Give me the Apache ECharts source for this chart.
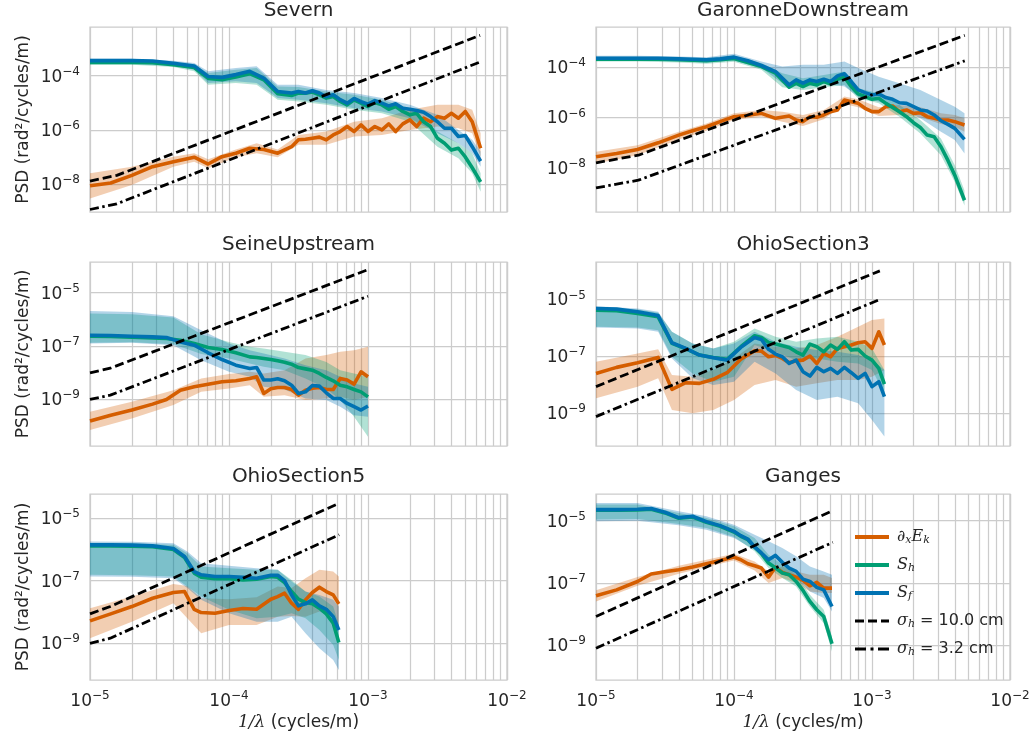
<!DOCTYPE html>
<html>
<head>
<meta charset="utf-8">
<script src="https://cdn.jsdelivr.net/npm/echarts@6/dist/echarts.min.js"></script>
<style>
html, body { margin: 0; padding: 0; background: #ffffff; }
#chart { width: 1036px; height: 738px; }
</style>
</head>
<body>
<div id="chart"></div>
<script>
// ---------------- Severn ----------------
const severnFreq = [1.0e-5, 1.41e-5, 2.0e-5, 2.82e-5, 3.98e-5, 5.62e-5, 7.08e-5, 8.91e-5, 1.12e-4, 1.41e-4, 1.78e-4, 2.24e-4, 2.82e-4, 3.16e-4, 3.55e-4, 3.98e-4, 4.47e-4, 5.01e-4, 5.62e-4, 6.31e-4, 7.08e-4, 7.94e-4, 8.91e-4, 1.0e-3, 1.12e-3, 1.26e-3, 1.41e-3, 1.58e-3, 1.78e-3, 2.0e-3, 2.24e-3, 2.51e-3, 2.82e-3, 3.16e-3, 3.55e-3, 3.98e-3, 4.47e-3, 5.01e-3, 5.62e-3, 6.46e-3];
const severnDxEk = [8.7e-9, 1.1e-8, 2.1e-8, 4.4e-8, 6.7e-8, 9.8e-8, 5.5e-8, 1.03e-7, 1.38e-7, 2.1e-7, 1.9e-7, 1.38e-7, 2.4e-7, 4.3e-7, 4.5e-7, 4.9e-7, 5.4e-7, 4.3e-7, 6.5e-7, 8.7e-7, 1.33e-6, 8.7e-7, 1.53e-6, 8.7e-7, 1.33e-6, 1.0e-6, 1.67e-6, 8.7e-7, 1.67e-6, 2.35e-6, 1.33e-6, 2.7e-6, 2.0e-6, 3.1e-6, 2.7e-6, 4.1e-6, 2.7e-6, 4.8e-6, 2.0e-6, 2.1e-7];
const severnSh = [3.1e-4, 3.1e-4, 3.1e-4, 3.0e-4, 2.55e-4, 2.0e-4, 8.0e-5, 7.1e-5, 9.0e-5, 1.19e-4, 7.1e-5, 2.15e-5, 1.87e-5, 2.28e-5, 2.28e-5, 2.5e-5, 1.98e-5, 1.49e-5, 1.72e-5, 1.12e-5, 8.4e-6, 1.29e-5, 9.7e-6, 7.3e-6, 1.03e-5, 8.4e-6, 5.8e-6, 7.3e-6, 4.8e-6, 3.6e-6, 4.1e-6, 2.0e-6, 1.33e-6, 4.9e-7, 3.2e-7, 1.8e-7, 2.1e-7, 1.0e-7, 4.0e-8, 1.2e-8];
const severnSf = [3.6e-4, 3.6e-4, 3.6e-4, 3.5e-4, 2.9e-4, 2.3e-4, 9.4e-5, 8.7e-5, 1.1e-4, 1.45e-4, 8.2e-5, 2.6e-5, 2.3e-5, 2.6e-5, 2.3e-5, 2.8e-5, 2.3e-5, 1.7e-5, 2.0e-5, 1.3e-5, 9.7e-6, 1.45e-5, 1.1e-5, 8.9e-6, 1.2e-5, 9.7e-6, 7.7e-6, 9.2e-6, 6.3e-6, 5.8e-6, 5.2e-6, 4.5e-6, 3.1e-6, 2.0e-6, 1.15e-6, 1.15e-6, 5.7e-7, 6.2e-7, 2.4e-7, 7.0e-8];
const severnBandFreq = [1.0e-5, 2.0e-5, 3.98e-5, 5.62e-5, 7.08e-5, 1.12e-4, 1.58e-4, 2.24e-4, 3.16e-4, 5.01e-4, 7.94e-4, 1.26e-3, 2.0e-3, 3.16e-3, 4.47e-3, 5.62e-3, 6.46e-3];
const severnDxEkHi = [2.5e-8, 4.4e-8, 1.03e-7, 1.37e-7, 8.2e-8, 1.9e-7, 3.2e-7, 1.9e-7, 6.5e-7, 8.7e-7, 2.0e-6, 2.7e-6, 5.5e-6, 8.4e-6, 8.4e-6, 5.5e-6, 7.5e-7];
const severnDxEkLo = [2.9e-9, 9.2e-9, 4.4e-8, 6.7e-8, 3.8e-8, 9.7e-8, 1.37e-7, 9.7e-8, 2.8e-7, 2.8e-7, 5.7e-7, 6.5e-7, 1.0e-6, 1.33e-6, 1.15e-6, 7.5e-7, 1.03e-7];
const severnShHi = [3.6e-4, 3.6e-4, 3.12e-4, 2.55e-4, 1.26e-4, 1.67e-4, 1.92e-4, 4.0e-5, 3.8e-5, 2.6e-5, 2.0e-5, 1.29e-5, 6.3e-6, 8.7e-7, 3.2e-7, 1.37e-7, 2.5e-8];
const severnShLo = [2.55e-4, 2.55e-4, 2.09e-4, 1.45e-4, 4.6e-5, 5.4e-5, 4.6e-5, 1.29e-5, 1.12e-5, 8.4e-6, 5.5e-6, 4.1e-6, 2.0e-6, 2.4e-7, 8.9e-8, 2.5e-8, 5.2e-9];
const severnSfHi = [4.27e-4, 4.27e-4, 3.6e-4, 2.94e-4, 1.45e-4, 1.92e-4, 2.22e-4, 4.6e-5, 4.6e-5, 3.0e-5, 2.3e-5, 1.49e-5, 8.4e-6, 3.6e-6, 1.0e-6, 4.3e-7, 1.58e-7];
const severnSfLo = [2.78e-4, 2.78e-4, 2.34e-4, 1.67e-4, 5.4e-5, 6.2e-5, 5.4e-5, 1.49e-5, 1.29e-5, 9.7e-6, 6.3e-6, 4.8e-6, 2.7e-6, 7.5e-7, 3.2e-7, 1.37e-7, 4.4e-8];
const severnRefFreq = [1.0e-5, 1.56e-5, 6.4e-3];
const severnSig10 = [1.29e-8, 2.1e-8, 3.1e-3];
const severnSig32 = [1.15e-9, 1.87e-9, 3.2e-4];
const severnYRange = [9.3e-10, 6.3e-3];

// ---------------- GaronneDownstream ----------------
const garonneFreq = [1.0e-5, 1.41e-5, 2.0e-5, 2.82e-5, 3.98e-5, 5.01e-5, 6.31e-5, 7.94e-5, 1.0e-4, 1.26e-4, 1.58e-4, 2.0e-4, 2.51e-4, 2.82e-4, 3.16e-4, 3.55e-4, 3.98e-4, 4.47e-4, 5.01e-4, 5.62e-4, 6.31e-4, 7.08e-4, 7.94e-4, 8.91e-4, 1.0e-3, 1.12e-3, 1.26e-3, 1.41e-3, 1.58e-3, 1.78e-3, 2.0e-3, 2.24e-3, 2.51e-3, 2.82e-3, 3.16e-3, 3.55e-3, 3.98e-3, 4.68e-3];
const garonneDxEk = [2.77e-8, 3.75e-8, 5.4e-8, 9.9e-8, 2.0e-7, 2.98e-7, 4.3e-7, 6.8e-7, 1.07e-6, 1.21e-6, 1.45e-6, 9.2e-7, 1.14e-6, 7.9e-7, 6.8e-7, 1.07e-6, 1.01e-6, 1.25e-6, 1.69e-6, 1.97e-6, 4.9e-6, 4.2e-6, 3.6e-6, 2.29e-6, 1.69e-6, 1.69e-6, 2.67e-6, 2.83e-6, 1.69e-6, 1.97e-6, 1.45e-6, 1.54e-6, 1.07e-6, 9.2e-7, 7.9e-7, 7.9e-7, 6.8e-7, 5.0e-7];
const garonneSh = [2.0e-4, 2.0e-4, 2.0e-4, 2.0e-4, 1.9e-4, 1.84e-4, 1.73e-4, 1.9e-4, 2.14e-4, 1.49e-4, 1.03e-4, 5.6e-5, 1.56e-5, 2.25e-5, 1.66e-5, 2.25e-5, 1.93e-5, 2.62e-5, 2.11e-5, 3.24e-5, 3.9e-5, 1.66e-5, 8.5e-6, 6.7e-6, 5.2e-6, 5.7e-6, 3.6e-6, 2.5e-6, 1.69e-6, 1.07e-6, 6.2e-7, 4.0e-7, 2.0e-7, 1.72e-7, 6.9e-8, 2.0e-8, 5.2e-9, 5.3e-10];
const garonneSf = [2.2e-4, 2.2e-4, 2.2e-4, 2.2e-4, 2.07e-4, 2.0e-4, 1.9e-4, 2.07e-4, 2.42e-4, 1.73e-4, 1.13e-4, 6.5e-5, 1.93e-5, 3.05e-5, 2.25e-5, 3.05e-5, 2.62e-5, 3.24e-5, 2.62e-5, 4.4e-5, 5.3e-5, 2.62e-5, 1.22e-5, 9.6e-6, 7.7e-6, 8.5e-6, 6.1e-6, 5.2e-6, 3.8e-6, 3.6e-6, 2.67e-6, 1.97e-6, 1.8e-6, 1.25e-6, 7.4e-7, 5.3e-7, 3.7e-7, 1.35e-7];
const garonneBandFreq = [1.0e-5, 2.0e-5, 3.98e-5, 6.31e-5, 1.0e-4, 1.58e-4, 2.24e-4, 3.16e-4, 4.47e-4, 6.31e-4, 7.94e-4, 1.12e-3, 1.58e-3, 2.24e-3, 3.16e-3, 3.98e-3, 4.68e-3];
const garonneDxEkHi = [4.4e-8, 8.0e-8, 2.7e-7, 5.8e-7, 1.45e-6, 1.97e-6, 1.69e-6, 1.25e-6, 1.97e-6, 6.7e-6, 5.2e-6, 2.5e-6, 3.1e-6, 2.5e-6, 1.45e-6, 1.25e-6, 9.2e-7];
const garonneDxEkLo = [1.5e-8, 3.2e-8, 1.35e-7, 3.0e-7, 7.9e-7, 1.07e-6, 6.8e-7, 4.6e-7, 8.4e-7, 3.4e-6, 2.5e-6, 1.14e-6, 1.25e-6, 1.01e-6, 5.5e-7, 4.3e-7, 2.7e-7];
const garonneShHi = [2.42e-4, 2.42e-4, 2.28e-4, 2.14e-4, 2.74e-4, 1.4e-4, 5.6e-5, 3.55e-5, 4.8e-5, 6.5e-5, 1.42e-5, 9.0e-6, 3.1e-6, 7.9e-7, 1.48e-7, 1.29e-8, 1.3e-9];
const garonneShLo = [1.63e-4, 1.63e-4, 1.49e-4, 1.32e-4, 1.58e-4, 7.6e-5, 1.56e-5, 1.22e-5, 1.56e-5, 1.93e-5, 5.7e-6, 3.6e-6, 1.07e-6, 2.33e-7, 3.2e-8, 2.8e-9, 3.3e-10];
const garonneSfHi = [2.74e-4, 2.74e-4, 2.57e-4, 2.42e-4, 3.28e-4, 1.63e-4, 1.03e-4, 1.2e-4, 1.2e-4, 1.63e-4, 8.9e-5, 4.1e-5, 2.25e-5, 1.22e-5, 4.9e-6, 2.67e-6, 1.45e-6];
const garonneSfLo = [1.78e-4, 1.78e-4, 1.68e-4, 1.49e-4, 1.78e-4, 8.9e-5, 2.25e-5, 1.56e-5, 2.25e-5, 1.66e-5, 6.7e-6, 4.2e-6, 2.29e-6, 9.2e-7, 2.7e-7, 1.27e-7, 3.75e-8];
const garonneRefFreq = [1.0e-5, 2.03e-5, 4.7e-3];
const garonneSig10 = [1.6e-8, 3.2e-8, 1.75e-3];
const garonneSig32 = [1.63e-9, 3.3e-9, 1.73e-4];
const garonneYRange = [1.82e-10, 3.76e-3];

// ---------------- SeineUpstream ----------------
const seineFreq = [1.0e-5, 1.41e-5, 2.0e-5, 2.82e-5, 3.55e-5, 4.47e-5, 5.62e-5, 7.08e-5, 8.91e-5, 1.12e-4, 1.41e-4, 1.58e-4, 1.78e-4, 2.0e-4, 2.24e-4, 2.51e-4, 2.82e-4, 3.16e-4, 3.55e-4, 3.98e-4, 4.47e-4, 5.01e-4, 5.62e-4, 6.31e-4, 7.08e-4, 7.94e-4, 8.91e-4, 1.0e-3];
const seineDxEk = [1.5e-10, 2.5e-10, 3.9e-10, 6.5e-10, 9.7e-10, 2.17e-9, 2.9e-9, 3.65e-9, 4.5e-9, 4.9e-9, 6.0e-9, 6.9e-9, 1.63e-9, 2.44e-9, 2.74e-9, 2.74e-9, 2.3e-9, 1.41e-9, 2.17e-9, 2.58e-9, 2.74e-9, 2.3e-9, 2.3e-9, 6.0e-9, 5.2e-9, 3.65e-9, 1.06e-8, 6.9e-9];
const seineSh = [2.3e-7, 2.24e-7, 2.11e-7, 2.0e-7, 1.88e-7, 1.63e-7, 1.22e-7, 8.7e-8, 7.3e-8, 5.5e-8, 3.87e-8, 3.65e-8, 3.35e-8, 3.07e-8, 2.74e-8, 2.44e-8, 2.05e-8, 1.54e-8, 1.37e-8, 1.22e-8, 9.2e-9, 6.5e-9, 4.9e-9, 3.35e-9, 2.9e-9, 2.3e-9, 1.88e-9, 1.22e-9];
const seineSf = [2.5e-7, 2.44e-7, 2.3e-7, 2.17e-7, 2.05e-7, 1.41e-7, 1.06e-7, 5.5e-8, 3.07e-8, 1.88e-8, 1.41e-8, 1.54e-8, 5.2e-9, 5.2e-9, 5.8e-9, 4.9e-9, 3.35e-9, 1.63e-9, 1.88e-9, 3.25e-9, 3.07e-9, 1.73e-9, 1.06e-9, 1.06e-9, 6.9e-10, 5.2e-10, 3.9e-10, 5.5e-10];
const seineBandFreq = [1.0e-5, 2.0e-5, 3.98e-5, 6.31e-5, 1.0e-4, 1.41e-4, 1.78e-4, 2.51e-4, 3.55e-4, 5.01e-4, 6.31e-4, 7.94e-4, 1.0e-3];
const seineDxEkHi = [3.35e-10, 7.9e-10, 2.17e-9, 6.0e-9, 8.7e-9, 1.06e-8, 9.2e-9, 1.22e-8, 3.35e-8, 4.5e-8, 6.0e-8, 6.9e-8, 9.2e-8];
const seineDxEkLo = [6.9e-11, 1.88e-10, 6.0e-10, 1.88e-9, 2.5e-9, 3.35e-9, 1.22e-9, 1.41e-9, 9.2e-10, 1.06e-9, 1.22e-9, 9.2e-10, 1.22e-9];
const seineShHi = [1.63e-6, 1.54e-6, 1.15e-6, 2.74e-7, 1.41e-7, 9.2e-8, 7.9e-8, 6.0e-8, 4.5e-8, 2.5e-8, 1.22e-8, 9.2e-9, 6.9e-9];
const seineShLo = [1.3e-7, 1.37e-7, 1.15e-7, 4.9e-8, 3.35e-8, 2.17e-8, 1.63e-8, 1.22e-8, 6.0e-9, 2.5e-9, 9.2e-10, 2.17e-10, 3.87e-11];
const seineSfHi = [2.05e-6, 1.88e-6, 1.3e-6, 3.87e-7, 1.22e-7, 6.9e-8, 5.2e-8, 3.35e-8, 1.88e-8, 1.22e-8, 6.9e-9, 3.87e-9, 2.9e-9];
const seineSfLo = [1.22e-7, 1.3e-7, 1.06e-7, 2.9e-8, 1.06e-8, 6.9e-9, 2.9e-9, 2.3e-9, 1.06e-9, 9.2e-10, 5.2e-10, 2.5e-10, 2.17e-10];
const seineRefFreq = [1.0e-5, 1.4e-5, 1.0e-3];
const seineSig10 = [9.7e-9, 1.45e-8, 7.3e-5];
const seineSig32 = [9.7e-10, 1.41e-9, 7.3e-6];
const seineYRange = [1.74e-11, 1.41e-4];

// ---------------- OhioSection3 ----------------
const ohio3Freq = [1.0e-5, 1.41e-5, 2.0e-5, 2.82e-5, 3.55e-5, 4.47e-5, 5.62e-5, 7.08e-5, 8.91e-5, 1.12e-4, 1.41e-4, 1.58e-4, 1.78e-4, 2.0e-4, 2.24e-4, 2.51e-4, 2.82e-4, 3.16e-4, 3.55e-4, 3.98e-4, 4.47e-4, 5.01e-4, 5.62e-4, 6.31e-4, 7.08e-4, 7.94e-4, 8.91e-4, 1.0e-3, 1.12e-3, 1.23e-3];
const ohio3DxEk = [2.49e-8, 4.06e-8, 5.9e-8, 9.1e-8, 6.8e-9, 1.17e-8, 1.11e-8, 1.54e-8, 2.63e-8, 7.8e-8, 1.57e-7, 1.52e-7, 9.6e-8, 1.07e-7, 8.4e-8, 5.9e-8, 7.0e-8, 7.3e-8, 1.02e-7, 5.6e-8, 1.26e-7, 9.6e-8, 1.89e-7, 2.16e-7, 2.48e-7, 2.99e-7, 3.24e-7, 1.89e-7, 7.3e-7, 2.48e-7];
const ohio3Sh = [4.2e-6, 4.0e-6, 3.22e-6, 2.45e-6, 2.84e-7, 1.84e-7, 1.1e-7, 9.1e-8, 7.8e-8, 2.16e-7, 5.3e-7, 4.6e-7, 3.08e-7, 2.69e-7, 2.35e-7, 2.05e-7, 1.44e-7, 1.1e-7, 2.69e-7, 2.16e-7, 1.44e-7, 2.48e-7, 1.75e-7, 3.24e-7, 1.65e-7, 1.75e-7, 1.02e-7, 7.3e-8, 3.74e-8, 1.05e-8];
const ohio3Sf = [4.8e-6, 4.57e-6, 3.68e-6, 2.74e-6, 2.99e-7, 1.89e-7, 1.1e-7, 8.9e-8, 7.3e-8, 2.05e-7, 4.6e-7, 3.9e-7, 1.75e-7, 1.19e-7, 9.6e-8, 5.6e-8, 7.3e-8, 2.86e-8, 2.01e-8, 4.06e-8, 2.86e-8, 3.74e-8, 2.49e-8, 4.06e-8, 2.63e-8, 1.67e-8, 2.49e-8, 8.5e-9, 1.27e-8, 3.78e-9];
const ohio3BandFreq = [1.0e-5, 2.0e-5, 2.82e-5, 3.55e-5, 5.01e-5, 7.08e-5, 1.0e-4, 1.41e-4, 2.0e-4, 2.82e-4, 3.98e-4, 5.62e-4, 7.94e-4, 1.0e-3, 1.23e-3];
const ohio3DxEkHi = [6.4e-8, 1.26e-7, 1.75e-7, 2.18e-8, 1.91e-8, 3.27e-8, 8.4e-8, 2.84e-7, 2.16e-7, 1.89e-7, 2.48e-7, 4.9e-7, 1.09e-6, 1.88e-6, 2.15e-6];
const ohio3DxEkLo = [3.3e-9, 8.5e-9, 1.67e-8, 1.28e-9, 9.8e-10, 1.28e-9, 2.88e-9, 9.7e-9, 1.46e-8, 8.5e-9, 1.11e-8, 1.46e-8, 1.46e-8, 1.91e-8, 3.27e-8];
const ohio3ShHi = [5.2e-6, 4.45e-6, 3.4e-6, 7.3e-7, 2.84e-7, 1.89e-7, 3.24e-7, 9.5e-7, 4.9e-7, 3.24e-7, 4.25e-7, 4.9e-7, 3.24e-7, 1.89e-7, 3.27e-8];
const ohio3ShLo = [1.09e-6, 1.04e-6, 8.3e-7, 9.6e-8, 2.49e-8, 1.27e-8, 1.91e-8, 2.48e-7, 1.44e-7, 7.3e-8, 8.4e-8, 6.4e-8, 5.6e-8, 3.27e-8, 4.9e-9];
const ohio3SfHi = [5.8e-6, 4.8e-6, 3.68e-6, 7.3e-7, 2.84e-7, 1.89e-7, 2.84e-7, 7.3e-7, 3.24e-7, 2.16e-7, 1.65e-7, 1.44e-7, 1.1e-7, 7.3e-8, 3.27e-8];
const ohio3SfLo = [1.04e-6, 9.5e-7, 7.3e-7, 8.4e-8, 1.67e-8, 9.7e-9, 1.27e-8, 6.4e-8, 2.49e-8, 6.5e-9, 2.88e-9, 3.78e-9, 2.2e-9, 5.7e-10, 1.48e-10];
const ohio3RefFreq = [1.0e-5, 1.14e-3];
const ohio3Sig10 = [8.5e-9, 1.02e-4];
const ohio3Sig32 = [7.5e-10, 1.0e-5];
const ohio3YRange = [6.9e-11, 2.09e-4];

// ---------------- OhioSection5 ----------------
const ohio5Freq = [1.0e-5, 1.41e-5, 2.0e-5, 2.82e-5, 3.98e-5, 4.79e-5, 5.62e-5, 6.31e-5, 7.94e-5, 1.0e-4, 1.26e-4, 1.58e-4, 2.0e-4, 2.24e-4, 2.51e-4, 2.82e-4, 3.16e-4, 3.55e-4, 3.98e-4, 4.47e-4, 5.01e-4, 5.62e-4, 6.17e-4];
const ohio5DxEk = [5.2e-9, 8.7e-9, 1.49e-8, 2.75e-8, 4.2e-8, 4.5e-8, 1.22e-8, 9.6e-9, 9.1e-9, 1.11e-8, 1.29e-8, 1.22e-8, 2.56e-8, 3.11e-8, 3.98e-8, 1.91e-8, 1.22e-8, 2.44e-8, 4.2e-8, 6.2e-8, 4.5e-8, 3.52e-8, 1.82e-8];
const ohio5Sh = [1.3e-6, 1.3e-6, 1.27e-6, 1.21e-6, 9.9e-7, 5.5e-7, 1.74e-7, 1.29e-7, 1.15e-7, 1.15e-7, 1.06e-7, 1.12e-7, 1.36e-7, 1.29e-7, 8.7e-8, 4.5e-8, 2.56e-8, 2.0e-8, 1.82e-8, 1.32e-8, 8.7e-9, 4.4e-9, 1.05e-9];
const ohio5Sf = [1.4e-6, 1.4e-6, 1.37e-6, 1.3e-6, 1.07e-6, 5.9e-7, 1.96e-7, 1.54e-7, 1.36e-7, 1.36e-7, 1.29e-7, 1.2e-7, 1.5e-7, 1.5e-7, 1.01e-7, 3.52e-8, 1.57e-8, 1.82e-8, 2.44e-8, 1.57e-8, 1.22e-8, 7.1e-9, 2.67e-9];
const ohio5BandFreq = [1.0e-5, 2.0e-5, 3.98e-5, 5.01e-5, 6.31e-5, 1.0e-4, 1.58e-4, 2.24e-4, 2.82e-4, 3.55e-4, 4.47e-4, 5.62e-4, 6.17e-4];
const ohio5DxEkHi = [1.32e-8, 3.11e-8, 7.9e-8, 6.8e-8, 2.75e-8, 2.56e-8, 2.96e-8, 6.5e-8, 5.8e-8, 1.2e-7, 2.22e-7, 1.96e-7, 1.36e-7];
const ohio5DxEkLo = [1.45e-9, 4.9e-9, 1.91e-8, 6.3e-9, 2.09e-9, 3.86e-9, 3.86e-9, 7.1e-9, 7.5e-9, 7.1e-9, 1.03e-8, 7.1e-9, 3.41e-9];
const ohio5ShHi = [1.58e-6, 1.55e-6, 1.4e-6, 7.6e-7, 2.84e-7, 2.51e-7, 2.22e-7, 2.22e-7, 1.06e-7, 4.5e-8, 3.11e-8, 1.49e-8, 3.86e-9];
const ohio5ShLo = [1.54e-7, 1.5e-7, 1.36e-7, 6.5e-8, 3.11e-8, 1.17e-8, 6.3e-9, 7.1e-9, 9.1e-9, 6.3e-9, 2.67e-9, 8.8e-10, 2.93e-10];
const ohio5SfHi = [1.79e-6, 1.75e-6, 1.58e-6, 8.6e-7, 3.63e-7, 2.98e-7, 2.51e-7, 2.22e-7, 9.4e-8, 4.5e-8, 3.52e-8, 2.44e-8, 1.49e-8];
const ohio5SfLo = [1.36e-7, 1.33e-7, 1.2e-7, 5.8e-8, 2.44e-8, 9.1e-9, 4.9e-9, 4.9e-9, 7.1e-9, 2.09e-9, 6.9e-10, 2.93e-10, 1.4e-10];
const ohio5RefFreq = [1.0e-5, 1.4e-5, 6.2e-4];
const ohio5Sig10 = [8.7e-9, 1.5e-8, 3.0e-5];
const ohio5Sig32 = [1.0e-9, 1.45e-9, 2.93e-6];
const ohio5YRange = [6.7e-11, 5.9e-5];

// ---------------- Ganges ----------------
const gangesFreq = [1.0e-5, 1.41e-5, 2.0e-5, 2.51e-5, 3.16e-5, 3.98e-5, 5.01e-5, 6.31e-5, 7.94e-5, 1.0e-4, 1.12e-4, 1.26e-4, 1.41e-4, 1.58e-4, 1.78e-4, 2.0e-4, 2.24e-4, 2.51e-4, 2.82e-4, 3.16e-4, 3.55e-4, 3.98e-4, 4.47e-4, 5.13e-4];
const gangesDxEk = [3.81e-8, 5.9e-8, 1.1e-7, 1.91e-7, 2.27e-7, 2.63e-7, 3.2e-7, 4.1e-7, 5.25e-7, 6.7e-7, 5.5e-7, 4.1e-7, 3.53e-7, 2.97e-7, 1.52e-7, 3.2e-7, 2.15e-7, 1.81e-7, 1.52e-7, 1.19e-7, 8.0e-8, 1.03e-7, 6.7e-8, 6.7e-8];
const gangesSh = [2.15e-5, 2.15e-5, 2.21e-5, 2.32e-5, 1.77e-5, 1.19e-5, 1.31e-5, 8.8e-6, 6.6e-6, 4.31e-6, 3.12e-6, 2.44e-6, 1.42e-6, 8.6e-7, 4.3e-7, 2.97e-7, 2.05e-7, 1.81e-7, 1.1e-7, 5.7e-8, 2.5e-8, 1.35e-8, 8.2e-9, 1.08e-9];
const gangesSf = [2.26e-5, 2.26e-5, 2.32e-5, 2.44e-5, 1.86e-5, 1.25e-5, 1.38e-5, 9.3e-6, 6.9e-6, 4.53e-6, 3.28e-6, 2.56e-6, 1.42e-6, 9.1e-7, 5.5e-7, 7.6e-7, 4.53e-7, 2.97e-7, 2.32e-7, 1.31e-7, 1.1e-7, 7.1e-8, 5.9e-8, 1.72e-8];
const gangesBandFreq = [1.0e-5, 2.0e-5, 3.98e-5, 6.31e-5, 1.0e-4, 1.41e-4, 1.78e-4, 2.24e-4, 2.82e-4, 3.55e-4, 4.47e-4, 5.13e-4];
const gangesDxEkHi = [5.7e-8, 1.52e-7, 3.53e-7, 5.5e-7, 8.6e-7, 4.87e-7, 2.32e-7, 3.36e-7, 2.32e-7, 1.81e-7, 1.81e-7, 1.42e-7];
const gangesDxEkLo = [2.5e-8, 8.0e-8, 1.95e-7, 3.2e-7, 5.25e-7, 2.5e-7, 9.8e-8, 1.42e-7, 9.8e-8, 5.25e-8, 4.64e-8, 4.64e-8];
const gangesShHi = [3.28e-5, 3.28e-5, 1.77e-5, 1.22e-5, 6.6e-6, 2.76e-6, 8.0e-7, 3.81e-7, 1.81e-7, 4.1e-8, 1.35e-8, 1.86e-9];
const gangesShLo = [1.08e-5, 1.13e-5, 7.8e-6, 5.8e-6, 2.97e-6, 1.03e-6, 2.97e-7, 1.42e-7, 7.6e-8, 1.72e-8, 5.0e-9, 6.1e-10];
const gangesSfHi = [3.72e-5, 3.72e-5, 2.0e-5, 1.38e-5, 7.4e-6, 3.53e-6, 2.15e-6, 1.31e-6, 7.1e-7, 3.36e-7, 2.32e-7, 1.81e-7];
const gangesSfLo = [9.5e-6, 1.0e-5, 7.1e-6, 5.1e-6, 2.76e-6, 1.16e-6, 4.87e-7, 2.32e-7, 1.42e-7, 5.25e-8, 3.2e-8, 1.19e-8];
const gangesRefFreq = [1.0e-5, 5.2e-4];
const gangesSig10 = [8.2e-9, 2.1e-5];
const gangesSig32 = [7.8e-10, 2.0e-6];
const gangesYRange = [7.4e-11, 7.2e-5];

// Decades that carry a tick label and a horizontal grid line
const yTicksEven = [-4, -6, -8];
const yTicksOdd = [-5, -7, -9];
const xRange = [1e-5, 1e-2];
const xMinorDecades = [1e-5, 1e-4, 1e-3];
const xMinorSteps = [2, 3, 4, 5, 6, 7, 8, 9];

const legendLabels = {
  dxEk: '{m|∂}{sub|x}{m|E}{sub|k}',
  Sh: '{m|S}{sub|h}',
  Sf: '{m|S}{sub|f}',
  sig10: '{m|σ}{sub|h}{t| = 10.0 cm}',
  sig32: '{m|σ}{sub|h}{t| = 3.2 cm}'
};

// ---------------- styling / layout ----------------
const FONT = "'DejaVu Sans', sans-serif";
const SERIF = "'DejaVu Serif', serif";
const TXT = '#262626';
const GRIDC = '#cccccc';
const ORANGE = '#d55e00', GREEN = '#009e73', BLUE = '#0072b2';
const ORANGE_BAND = 'rgba(213,94,0,0.3)', GREEN_BAND = 'rgba(0,158,115,0.3)', BLUE_BAND = 'rgba(0,114,178,0.3)';
const DATA_WIDTH = 3.6, REF_WIDTH = 2.8;
const DASHED = [9, 4], DASHDOT = [9, 3.5, 2.5, 3.5];

const panels = [
  { name: 'Severn', freq: severnFreq, dxEk: severnDxEk, sh: severnSh, sf: severnSf, bandFreq: severnBandFreq,
    dxEkLo: severnDxEkLo, dxEkHi: severnDxEkHi, shLo: severnShLo, shHi: severnShHi, sfLo: severnSfLo, sfHi: severnSfHi,
    refFreq: severnRefFreq, sig10: severnSig10, sig32: severnSig32, yRange: severnYRange, yTicks: yTicksEven,
    box: { left: 90, top: 27, width: 417, height: 185 }, showX: false, showYName: true },
  { name: 'GaronneDownstream', freq: garonneFreq, dxEk: garonneDxEk, sh: garonneSh, sf: garonneSf, bandFreq: garonneBandFreq,
    dxEkLo: garonneDxEkLo, dxEkHi: garonneDxEkHi, shLo: garonneShLo, shHi: garonneShHi, sfLo: garonneSfLo, sfHi: garonneSfHi,
    refFreq: garonneRefFreq, sig10: garonneSig10, sig32: garonneSig32, yRange: garonneYRange, yTicks: yTicksEven,
    box: { left: 596, top: 27, width: 414, height: 185 }, showX: false, showYName: false },
  { name: 'SeineUpstream', freq: seineFreq, dxEk: seineDxEk, sh: seineSh, sf: seineSf, bandFreq: seineBandFreq,
    dxEkLo: seineDxEkLo, dxEkHi: seineDxEkHi, shLo: seineShLo, shHi: seineShHi, sfLo: seineSfLo, sfHi: seineSfHi,
    refFreq: seineRefFreq, sig10: seineSig10, sig32: seineSig32, yRange: seineYRange, yTicks: yTicksOdd,
    box: { left: 90, top: 262, width: 417, height: 184 }, showX: false, showYName: true },
  { name: 'OhioSection3', freq: ohio3Freq, dxEk: ohio3DxEk, sh: ohio3Sh, sf: ohio3Sf, bandFreq: ohio3BandFreq,
    dxEkLo: ohio3DxEkLo, dxEkHi: ohio3DxEkHi, shLo: ohio3ShLo, shHi: ohio3ShHi, sfLo: ohio3SfLo, sfHi: ohio3SfHi,
    refFreq: ohio3RefFreq, sig10: ohio3Sig10, sig32: ohio3Sig32, yRange: ohio3YRange, yTicks: yTicksOdd,
    box: { left: 596, top: 262, width: 414, height: 184 }, showX: false, showYName: false },
  { name: 'OhioSection5', freq: ohio5Freq, dxEk: ohio5DxEk, sh: ohio5Sh, sf: ohio5Sf, bandFreq: ohio5BandFreq,
    dxEkLo: ohio5DxEkLo, dxEkHi: ohio5DxEkHi, shLo: ohio5ShLo, shHi: ohio5ShHi, sfLo: ohio5SfLo, sfHi: ohio5SfHi,
    refFreq: ohio5RefFreq, sig10: ohio5Sig10, sig32: ohio5Sig32, yRange: ohio5YRange, yTicks: yTicksOdd,
    box: { left: 90, top: 494, width: 417, height: 186 }, showX: true, showYName: true },
  { name: 'Ganges', freq: gangesFreq, dxEk: gangesDxEk, sh: gangesSh, sf: gangesSf, bandFreq: gangesBandFreq,
    dxEkLo: gangesDxEkLo, dxEkHi: gangesDxEkHi, shLo: gangesShLo, shHi: gangesShHi, sfLo: gangesSfLo, sfHi: gangesSfHi,
    refFreq: gangesRefFreq, sig10: gangesSig10, sig32: gangesSig32, yRange: gangesYRange, yTicks: yTicksOdd,
    box: { left: 596, top: 494, width: 414, height: 186 }, showX: true, showYName: false }
];

const powRich = {
  b: { fontSize: 17, fontFamily: FONT, color: TXT, verticalAlign: 'bottom' },
  s: { fontSize: 12, fontFamily: FONT, color: TXT, verticalAlign: 'bottom', padding: [0, 0, 8, 0] }
};

function powLabel(e) {
  return '{b|10}{s|' + (e < 0 ? '\u2212' + (-e) : String(e)) + '}';
}

function decadeFormatter(allowed) {
  return function (v) {
    if (!(v > 0)) return '';
    const e = Math.log10(v);
    const r = Math.round(e);
    if (Math.abs(e - r) > 1e-6 || allowed.indexOf(r) < 0) return '';
    return powLabel(r);
  };
}

function bandSeries(i, fx, lo, hi, fill, z) {
  return {
    type: 'custom', xAxisIndex: i, yAxisIndex: i, silent: true, clip: true, z: z, animation: false,
    data: [[fx[0], hi[0]]],
    renderItem: function (params, api) {
      const pts = [];
      for (let k = 0; k < fx.length; k++) pts.push(api.coord([fx[k], hi[k]]));
      for (let k = fx.length - 1; k >= 0; k--) pts.push(api.coord([fx[k], lo[k]]));
      return { type: 'polygon', shape: { points: pts }, style: { fill: fill, stroke: null } };
    }
  };
}

function lineSeries(i, name, fx, vals, color, width, dash, z) {
  return {
    type: 'line', name: name, xAxisIndex: i, yAxisIndex: i, silent: true, animation: false, z: z,
    symbol: 'none', showSymbol: false, clip: true,
    data: fx.map(function (x, k) { return [x, vals[k]]; }),
    itemStyle: { color: color },
    lineStyle: { color: color, width: width, type: dash || 'solid', cap: 'butt', join: 'round' },
    emphasis: { disabled: true }
  };
}

const grids = [], xAxes = [], yAxes = [], titles = [], series = [];

panels.forEach(function (p, i) {
  const b = p.box;
  grids.push({ left: b.left, top: b.top, width: b.width, height: b.height, show: true,
    borderColor: GRIDC, borderWidth: 1.25, backgroundColor: 'transparent', containLabel: false, outerBoundsMode: 'none' });

  titles.push({ text: p.name, left: b.left + b.width / 2, top: b.top - (i < 2 ? 26 : 27), textAlign: 'center', padding: 0,
    textStyle: { fontSize: 20, fontWeight: 'normal', color: TXT, fontFamily: FONT } });

  xAxes.push({
    type: 'log', logBase: 10, gridIndex: i, min: xRange[0], max: xRange[1],
    axisLine: { show: false }, axisTick: { show: false },
    splitLine: { show: true, lineStyle: { color: GRIDC, width: 1.25 } },
    axisLabel: { show: p.showX, margin: 10, formatter: decadeFormatter([-5, -4, -3, -2]), rich: powRich },
    name: p.showX ? '{i|1/\u03bb} (cycles/m)' : '',
    nameLocation: 'middle', nameGap: 34,
    nameTextStyle: { fontSize: 17, color: TXT, fontFamily: FONT,
      rich: { i: { fontSize: 17, fontFamily: SERIF, fontStyle: 'italic', color: TXT } } }
  });

  yAxes.push({
    type: 'log', logBase: 10, gridIndex: i, min: p.yRange[0], max: p.yRange[1], splitNumber: 6,
    axisLine: { show: false }, axisTick: { show: false }, splitLine: { show: false },
    axisLabel: { show: true, margin: 10, formatter: decadeFormatter(p.yTicks), rich: powRich },
    name: p.showYName ? 'PSD (rad\u00b2/cycles/m)' : '',
    nameLocation: 'middle', nameGap: 58, nameRotate: 90,
    nameTextStyle: { fontSize: 17, color: TXT, fontFamily: FONT }
  });

  // grid lines: minor decades on x, labelled decades on y (carried by an invisible one-point series)
  const marks = [];
  xMinorDecades.forEach(function (d) { xMinorSteps.forEach(function (m) { marks.push({ xAxis: m * d }); }); });
  p.yTicks.forEach(function (e) { marks.push({ yAxis: Math.pow(10, e) }); });
  series.push({
    type: 'line', xAxisIndex: i, yAxisIndex: i, silent: true, animation: false, z: 1,
    data: [[xRange[0], p.yRange[0]]], symbol: 'none', showSymbol: false,
    lineStyle: { width: 0, opacity: 0 },
    markLine: { silent: true, symbol: ['none', 'none'], z: 1, animation: false, precision: 12,
      label: { show: false }, emphasis: { disabled: true },
      lineStyle: { color: GRIDC, width: 1.25, type: 'solid', opacity: 1 }, data: marks }
  });

  series.push(bandSeries(i, p.bandFreq, p.dxEkLo, p.dxEkHi, ORANGE_BAND, 2));
  series.push(bandSeries(i, p.bandFreq, p.shLo, p.shHi, GREEN_BAND, 2));
  series.push(bandSeries(i, p.bandFreq, p.sfLo, p.sfHi, BLUE_BAND, 2));
  series.push(lineSeries(i, 'dxEk', p.freq, p.dxEk, ORANGE, DATA_WIDTH, 'solid', 3));
  series.push(lineSeries(i, 'Sh', p.freq, p.sh, GREEN, DATA_WIDTH, 'solid', 3));
  series.push(lineSeries(i, 'Sf', p.freq, p.sf, BLUE, DATA_WIDTH, 'solid', 3));
  series.push(lineSeries(i, 'sig10', p.refFreq, p.sig10, '#000000', REF_WIDTH, DASHED, 4));
  series.push(lineSeries(i, 'sig32', p.refFreq, p.sig32, '#000000', REF_WIDTH, DASHDOT, 4));
});

const chart = echarts.init(document.getElementById('chart'), null, { renderer: 'canvas' });
chart.setOption({
  backgroundColor: '#ffffff',
  animation: false,
  textStyle: { fontFamily: FONT, color: TXT },
  title: titles,
  grid: grids,
  xAxis: xAxes,
  yAxis: yAxes,
  legend: {
    show: true, orient: 'vertical', left: 848, top: 524, itemWidth: 34, itemHeight: 12, itemGap: 11,
    selectedMode: false,
    data: [
      { name: 'dxEk', lineStyle: { width: 4, color: ORANGE } },
      { name: 'Sh', lineStyle: { width: 4, color: GREEN } },
      { name: 'Sf', lineStyle: { width: 4, color: BLUE } },
      { name: 'sig10', lineStyle: { width: 3, color: '#000000', type: DASHED } },
      { name: 'sig32', lineStyle: { width: 3, color: '#000000', type: [11, 4.5, 3, 4.5] } }
    ],
    itemStyle: { opacity: 0 },
    formatter: function (name) { return legendLabels[name]; },
    textStyle: {
      color: TXT, fontSize: 16, fontFamily: FONT, padding: [0, 0, 0, 3],
      rich: {
        m: { fontSize: 16, fontFamily: SERIF, fontStyle: 'italic', color: TXT },
        sub: { fontSize: 11, fontFamily: SERIF, fontStyle: 'italic', color: TXT, padding: [7, 0, 0, 0] },
        t: { fontSize: 16, fontFamily: FONT, color: TXT }
      }
    }
  },
  series: series
});
</script>
</body>
</html>
